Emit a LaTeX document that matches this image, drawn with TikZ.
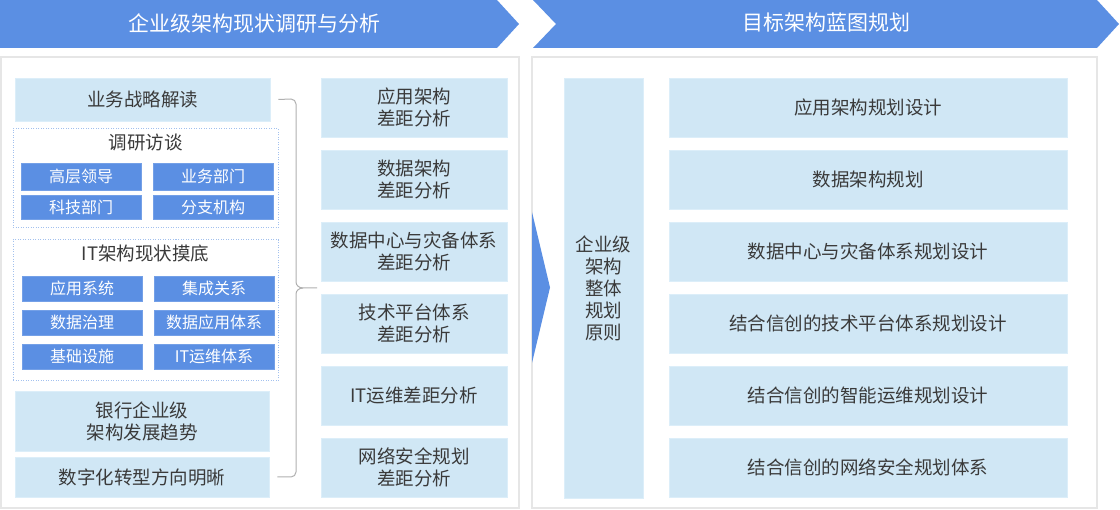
\documentclass[tikz,border=0pt]{standalone}
\usepackage{fontspec}
\setmainfont{Noto Sans CJK SC}
\definecolor{bannerblue}{HTML}{5B8FE3}
\definecolor{lightbox}{HTML}{D0E7F5}
\definecolor{lightedge}{HTML}{DCEEF9}
\definecolor{panelgrey}{HTML}{E6E6E6}
\definecolor{dotblue}{HTML}{A3C1EE}
\definecolor{txt}{HTML}{3A3A3A}
\definecolor{bracegrey}{HTML}{B0B0B0}
\tikzset{
  lb/.style={fill=lightbox, draw=lightedge, line width=0.8pt, text=txt, align=center, inner sep=0pt,
    font=\fontsize{18.5}{22}\selectfont},
  bb/.style={fill=bannerblue, draw=bannerblue!85!white, line width=0.6pt, text=white, inner sep=0pt,
    minimum width=120, font=\fontsize{16}{20}\selectfont},
  dotbox/.style={draw=dotblue, line width=1pt, dash pattern=on 1pt off 1.5pt, inner sep=0pt},
  panel/.style={draw=panelgrey, line width=1.2pt, fill=white, inner sep=0pt},
  banner/.style={fill=bannerblue},
  bannertext/.style={text=white, font=\fontsize{21}{24}\selectfont},
  titletext/.style={text=txt, font=\fontsize{18.5}{22}\selectfont},
  bracestyle/.style={draw=bracegrey, line width=1pt},
}
\begin{document}
\begin{tikzpicture}[x=1pt,y=-1pt]
\useasboundingbox (0,0) rectangle (1120,510);
% banners
\fill[banner] (0,0) -- (497,0) -- (519,24) -- (497,48) -- (0,48) -- cycle;
\node[bannertext] (b1) at (254.5,23) {企业级架构现状调研与分析};
\fill[banner] (533,0) -- (1097,0) -- (1119,24) -- (1097,48) -- (533,48) -- (556,24) -- cycle;
\node[bannertext] (b2) at (826,23) {目标架构蓝图规划};
% panels
\node[panel, minimum width=518, minimum height=451] (lp) at (260,282.5) {};
\node[panel, minimum width=565, minimum height=451] (rp) at (814.5,282.5) {};
% left column
\node[lb, minimum width=255, minimum height=43] (s1) at (142.5,99.5) {业务战略解读};
\node[dotbox, minimum width=265, minimum height=99] (d1) at (145.5,178.5) {};
\node[titletext] (d1t) at (145.5,143) {调研访谈};
\node[bb, minimum height=27] (i1) at (81,176.5) {高层领导};
\node[bb, minimum height=27] (i2) at (213,176.5) {业务部门};
\node[bb, minimum height=24] (i3) at (81,207.5) {科技部门};
\node[bb, minimum height=24] (i4) at (213,207.5) {分支机构};
\node[dotbox, minimum width=265, minimum height=141] (d2) at (145.5,310.5) {};
\node[titletext] (d2t) at (145.5,253) {IT架构现状摸底};
\node[bb, minimum height=25] (j1) at (82,288.5) {应用系统};
\node[bb, minimum height=25] (j2) at (214,288.5) {集成关系};
\node[bb, minimum height=25] (j3) at (82,322.5) {数据治理};
\node[bb, minimum height=25] (j4) at (214,322.5) {数据应用体系};
\node[bb, minimum height=25] (j5) at (82,356.5) {基础设施};
\node[bb, minimum height=25] (j6) at (214,356.5) {IT运维体系};
\node[lb, minimum width=254, minimum height=60] (s4) at (142,421) {银行企业级\\架构发展趋势};
\node[lb, minimum width=254, minimum height=40] (s5) at (142,477) {数字化转型方向明晰};
% brace
\coordinate (bt) at ([xshift=8]s1.east);
\coordinate (bb) at ([xshift=8]s5.east);
\coordinate (tip) at (317,288);
\draw[bracestyle] (bt) -- (291,99) to[out=0,in=90] (296,104) -- (296,282)
  to[out=-90,in=180] (303,288) -- (tip);
\draw[bracestyle] (303,288) to[out=180,in=90] (296,294) -- (296,472)
  to[out=-90,in=0] (291,477) -- (bb);
% middle column
\node[lb, minimum width=186, minimum height=59] (m1) at (414,107.5) {应用架构\\差距分析};
\node[lb, minimum width=186, minimum height=59] (m2) at (414,179.5) {数据架构\\差距分析};
\node[lb, minimum width=186, minimum height=59] (m3) at (414,251.5) {数据中心与灾备体系\\差距分析};
\node[lb, minimum width=186, minimum height=59] (m4) at (414,323.5) {技术平台体系\\差距分析};
\node[lb, minimum width=186, minimum height=59] (m5) at (414,395.5) {IT运维差距分析};
\node[lb, minimum width=186, minimum height=59] (m6) at (414,467.5) {网络安全规划\\差距分析};
% arrow triangle
\fill[banner] (532,212) -- (550,287.5) -- (532,363) -- cycle;
% right panel
\node[lb, minimum width=79, minimum height=420] (p) at (603.5,288) {企业级\\架构\\整体\\规划\\原则};
\node[lb, minimum width=398, minimum height=59] (r1) at (868,107.5) {应用架构规划设计};
\node[lb, minimum width=398, minimum height=59] (r2) at (868,179.5) {数据架构规划};
\node[lb, minimum width=398, minimum height=59] (r3) at (868,251.5) {数据中心与灾备体系规划设计};
\node[lb, minimum width=398, minimum height=59] (r4) at (868,323.5) {结合信创的技术平台体系规划设计};
\node[lb, minimum width=398, minimum height=59] (r5) at (868,395.5) {结合信创的智能运维规划设计};
\node[lb, minimum width=398, minimum height=59] (r6) at (868,467.5) {结合信创的网络安全规划体系};
\end{tikzpicture}
\end{document}
